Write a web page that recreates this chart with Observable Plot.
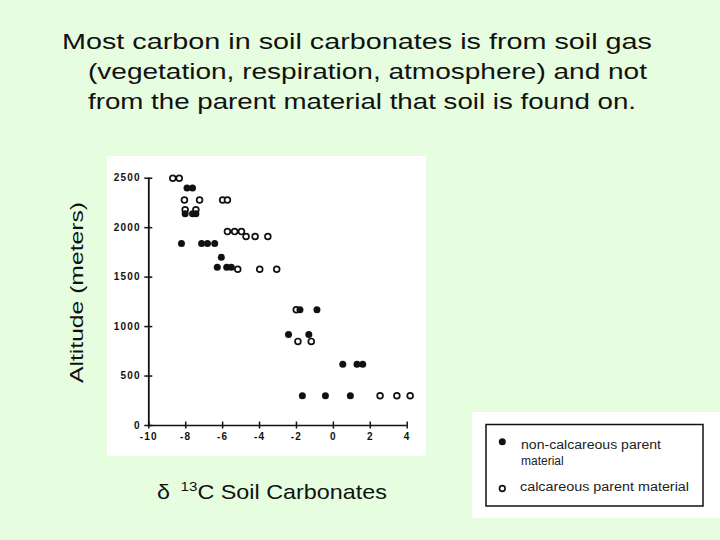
<!DOCTYPE html>
<html>
<head>
<meta charset="utf-8">
<script src="https://cdn.jsdelivr.net/npm/d3@7"></script>
<script src="https://cdn.jsdelivr.net/npm/@observablehq/plot@0.6"></script>
<style>
  html, body { margin: 0; padding: 0; }
  body { width: 720px; height: 540px; background: #e6fde0; position: relative; overflow: hidden;
         font-family: "Liberation Sans", Arial, sans-serif; }
  #overlay { position: absolute; left: 0; top: 0; }
  #chart { position: absolute; left: 107px; top: 156px; }
  #chart svg text { letter-spacing: 1.2px; }
</style>
</head>
<body>
<svg id="overlay" width="720" height="540" xmlns="http://www.w3.org/2000/svg"
     font-family="Liberation Sans, Arial, sans-serif">
  <g fill="#111" font-size="22">
    <text x="62" y="48.5" textLength="590" lengthAdjust="spacingAndGlyphs">Most carbon in soil carbonates is from soil gas</text>
    <text x="88" y="78.5" textLength="559" lengthAdjust="spacingAndGlyphs">(vegetation, respiration, atmosphere) and not</text>
    <text x="88" y="108.5" textLength="548" lengthAdjust="spacingAndGlyphs">from the parent material that soil is found on.</text>
  </g>
  <text transform="translate(83,383) rotate(-90)" font-size="19" fill="#111"
        textLength="181" lengthAdjust="spacingAndGlyphs">Altitude (meters)</text>
  <text id="xlab" x="0" y="0" font-size="20" fill="#111" transform="translate(157,499)"><tspan>δ</tspan><tspan font-size="13" dx="9" dy="-8">13</tspan><tspan dy="8">C Soil Carbonates</tspan></text>
  <!-- legend -->
  <rect x="472" y="412" width="248" height="106" fill="white"/>
  <rect x="486" y="424.5" width="217" height="81.5" fill="white" stroke="#111" stroke-width="1.5"/>
  <circle cx="502.3" cy="441.7" r="3.5" fill="#111"/>
  <circle cx="502.3" cy="488.5" r="2.8" fill="white" stroke="#111" stroke-width="1.7"/>
  <g fill="#222" font-size="12">
    <text x="521" y="449" textLength="140" lengthAdjust="spacingAndGlyphs">non-calcareous parent</text>
    <text x="521" y="465">material</text>
    <text x="520" y="491" textLength="169" lengthAdjust="spacingAndGlyphs">calcareous parent material</text>
  </g>
</svg>
<div id="chart"></div>
<script>
// Tick values
const xTicks = [-10, -8, -6, -4, -2, 0, 2, 4];
const yTicks = [0, 500, 1000, 1500, 2000, 2500];

// Non-calcareous parent material (filled dots): δ13C and altitude (m)
const nonCalcDelta = [-7.93, -7.63, -8.03, -7.63, -7.45, -8.23, -7.14, -6.82, -6.43, -6.07,
                      -6.29, -5.78, -5.53, -1.81, -0.89, -2.43, -1.33, 0.51, 1.28, 1.59,
                      -1.68, -0.43, 0.92];
const nonCalcAlt   = [2400, 2400, 2140, 2140, 2140, 1840, 1840, 1840, 1840, 1700,
                      1600, 1600, 1600, 1170, 1170, 920, 920, 620, 620, 620,
                      300, 300, 300];

// Calcareous parent material (open dots)
const calcDelta = [-8.70, -8.35, -8.07, -7.25, -6.00, -5.74, -8.03, -7.45, -5.74, -5.35,
                   -4.98, -4.73, -4.24, -3.55, -5.18, -3.99, -3.07, -2.01, -1.92, -1.20,
                   2.53, 3.44, 4.16];
const calcAlt   = [2500, 2500, 2280, 2280, 2280, 2280, 2180, 2180, 1960, 1960,
                   1960, 1910, 1910, 1910, 1580, 1580, 1580, 1170, 850, 850,
                   300, 300, 300];

const nonCalc = nonCalcDelta.map((d, i) => ({delta: d, alt: nonCalcAlt[i]}));
const calc = calcDelta.map((d, i) => ({delta: d, alt: calcAlt[i]}));

const xFirst = xTicks[0], xLast = xTicks[xTicks.length - 1];
const yFirst = yTicks[0], yLast = yTicks[yTicks.length - 1];

const chart = Plot.plot({
  width: 319,
  height: 300,
  marginLeft: 41.3,
  marginRight: 19.3,
  marginTop: 21.7,
  marginBottom: 31,
  style: {background: "white", fontFamily: "Liberation Sans, Arial, sans-serif", color: "#111", overflow: "visible"},
  x: {domain: [xFirst, xLast]},
  y: {domain: [yFirst, yLast]},
  marks: [
    Plot.ruleX([xFirst], {y1: yFirst, y2: yLast, stroke: "#111", strokeWidth: 1.8}),
    Plot.ruleY([yFirst], {x1: xFirst, x2: xLast, stroke: "#111", strokeWidth: 1.6}),
    Plot.axisY(yTicks, {tickSize: 8, dx: 4, tickFormat: () => "", label: null, stroke: "#111", strokeWidth: 1.5}),
    Plot.axisY(yTicks, {tickSize: 0, tickPadding: 8, tickFormat: d => String(d), label: null,
                        fontSize: 10, fontWeight: "bold", fill: "#111"}),
    Plot.axisX(xTicks, {tickSize: 7, dy: -3.5, tickFormat: () => "", label: null, stroke: "#111", strokeWidth: 1.5}),
    Plot.axisX(xTicks, {tickSize: 0, tickPadding: 7, tickFormat: d => String(d), label: null,
                        fontSize: 10, fontWeight: "bold", fill: "#111"}),
    Plot.dot(calc, {x: "delta", y: "alt", r: 2.9, fill: "white", stroke: "#111", strokeWidth: 1.7}),
    Plot.dot(nonCalc, {x: "delta", y: "alt", r: 3.5, fill: "#111", stroke: "none"})
  ]
});
document.getElementById("chart").appendChild(chart);

// stretch the x-axis title horizontally to the reference width (230 px)
const xlab = document.getElementById("xlab");
let w = 0;
try { w = xlab.getBBox().width; } catch (e) { w = 0; }
if (!(w > 0)) w = xlab.getComputedTextLength() + 9;
if (w > 0) xlab.setAttribute("transform", `translate(157,499) scale(${(230 / w).toFixed(3)},1)`);
</script>
</body>
</html>
